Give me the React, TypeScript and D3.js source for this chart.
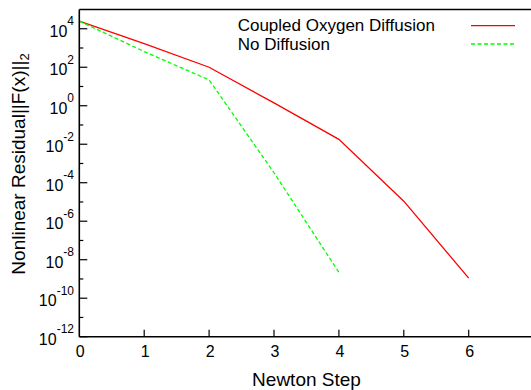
import React from "react";
import * as d3 from "d3";

const steps = [0, 1, 2, 3, 4, 5, 6];
const coupledResidual = [2.5e4, 1.7e3, 100, 1.4, 1.8e-2, 1.1e-5, 1.1e-9];
const noDiffSteps = [0, 1, 2, 3, 4];
const noDiffResidual = [2.5e4, 6.5e2, 22, 3.3e-4, 2.2e-9];
const xTicks = [0, 1, 2, 3, 4, 5, 6];
const yMajorExp = [4, 2, 0, -2, -4, -6, -8, -10, -12];
const yMinorExp = [3, 1, -1, -3, -5, -7, -9, -11];
const legendLabels = ["Coupled Oxygen Diffusion", "No Diffusion"];

const W = 531;
const H = 390;
const left = 79.3;
const right = 533.6;
const top = 9.5;
const bottom = 336.7;
const FONT = "'Liberation Sans', Arial, Helvetica, sans-serif";

export default function App() {
  const x = d3.scaleLinear().domain([0, 7]).range([left, right]);
  const y = d3.scaleLog().domain([1e-12, 1e5]).range([bottom, top]);

  const line = d3
    .line<[number, number]>()
    .x((d) => x(d[0]))
    .y((d) => y(d[1]));

  const redPts: [number, number][] = steps.map((s, i) => [s, coupledResidual[i]]);
  const greenPts: [number, number][] = noDiffSteps.map((s, i) => [s, noDiffResidual[i]]);

  return (
    <svg
      width={W}
      height={H}
      style={{ position: "absolute", left: 0, top: 0, background: "#fff" }}
      fontFamily={FONT}
    >
      <rect x={0} y={0} width={W} height={H} fill="#fff" />
      {/* data lines */}
      <path d={line(redPts) || ""} fill="none" stroke="#ff0000" strokeWidth={1.3} />
      <path
        d={line(greenPts) || ""}
        fill="none"
        stroke="#00ff00"
        strokeWidth={1.3}
        strokeDasharray="4,2.5"
      />
      {/* frame */}
      <line x1={left} x2={W} y1={top} y2={top} stroke="#000" strokeWidth={1.6} />
      <line x1={left} x2={W} y1={bottom} y2={bottom} stroke="#000" strokeWidth={1.6} />
      <line x1={left} x2={left} y1={top} y2={bottom} stroke="#000" strokeWidth={1.6} />
      {/* y ticks */}
      {yMajorExp.map((e) => (
        <g key={"ym" + e}>
          <line x1={left} x2={left + 8} y1={y(Math.pow(10, e))} y2={y(Math.pow(10, e))} stroke="#000" strokeWidth={1.2} />
          <text x={74} y={y(Math.pow(10, e)) + 8} fontSize={16} textAnchor="end" fill="#000">
            10
            <tspan dy={-11.7} fontSize={12}>
              {String(e)}
            </tspan>
          </text>
        </g>
      ))}
      {yMinorExp.map((e) => (
        <line
          key={"yn" + e}
          x1={left}
          x2={left + 4}
          y1={y(Math.pow(10, e))}
          y2={y(Math.pow(10, e))}
          stroke="#000"
          strokeWidth={1.2}
        />
      ))}
      {/* x ticks */}
      {xTicks.map((t) => (
        <g key={"x" + t}>
          {t > 0 && (
            <line x1={x(t)} x2={x(t)} y1={bottom} y2={bottom - 7} stroke="#000" strokeWidth={1.2} />
          )}
          <text x={x(t) + 1} y={357.3} fontSize={16} textAnchor="middle" fill="#000">
            {String(t)}
          </text>
        </g>
      ))}
      {/* axis titles */}
      <text x={306.5} y={385.5} fontSize={19} textAnchor="middle" fill="#000">
        Newton Step
      </text>
      <text
        transform="translate(25,164) rotate(-90)"
        fontSize={19}
        textAnchor="middle"
        fill="#000"
      >
        Nonlinear Residual||F(x)||
        <tspan dy={4} fontSize={13}>
          2
        </tspan>
      </text>
      {/* legend */}
      <text x={237.7} y={31} fontSize={17} fill="#000">
        {legendLabels[0]}
      </text>
      <text x={237.7} y={50} fontSize={17} fill="#000">
        {legendLabels[1]}
      </text>
      <line x1={471} x2={515} y1={25.7} y2={25.7} stroke="#ff0000" strokeWidth={1.3} />
      <line x1={471} x2={515} y1={44} y2={44} stroke="#00ff00" strokeWidth={1.3} strokeDasharray="4,2.5" />
    </svg>
  );
}
